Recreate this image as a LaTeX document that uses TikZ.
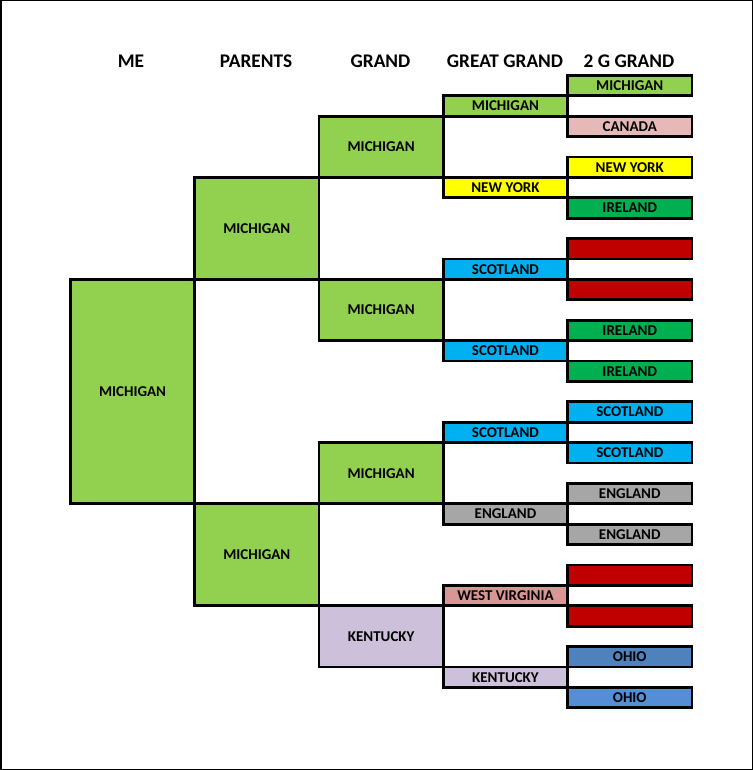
\documentclass[tikz,border=0pt]{standalone}
\usepackage{fontspec}
\setmainfont{Carlito}
\definecolor{mgreen}{HTML}{92D050}
\definecolor{mpink}{HTML}{E6B9B8}
\definecolor{myellow}{HTML}{FFFF00}
\definecolor{dgreen}{HTML}{00B050}
\definecolor{dred}{HTML}{C00000}
\definecolor{sky}{HTML}{00B0F0}
\definecolor{mgray}{HTML}{A6A6A6}
\definecolor{rose}{HTML}{D99694}
\definecolor{lav}{HTML}{CCC0DA}
\definecolor{ohioa}{HTML}{4F81BD}
\definecolor{ohiob}{HTML}{558ED5}
\begin{document}
\begin{tikzpicture}[x=1pt,y=-1pt,
  box/.style={draw=black,line width=2.8pt,anchor=north west,minimum width=124.3pt,inner sep=0pt,font=\fontsize{15}{15}\selectfont\bfseries},
  head/.style={font=\fontsize{19.3}{19}\selectfont\bfseries}]
\useasboundingbox (0,0) rectangle (753,770);
\draw[line width=1.5pt] (0.75,0.75) rectangle (752.25,769.25);
% column heads
\node[head] (hme) at (131,61) {ME};
\node[head] (hpar) at (256,61) {PARENTS};
\node[head] (hgr) at (380.5,61) {GRAND};
\node[head] (hgg) at (505,61) {GREAT GRAND};
\node[head] (hggg) at (629,61) {2 G GRAND};
% me and parents
\node[box,fill=mgreen,minimum height=224.4pt] (me) at (69,278) {MICHIGAN};
\node[box,fill=mgreen,minimum height=102pt] (par1) at (193.3,176) {MICHIGAN};
\node[box,fill=mgreen,minimum height=102pt] (par2) at (193.3,502.4) {MICHIGAN};
% grandparents
\node[box,fill=mgreen,minimum height=61.2pt] (gr1) at (317.6,114.8) {MICHIGAN};
\node[box,fill=mgreen,minimum height=61.2pt] (gr2) at (317.6,278) {MICHIGAN};
\node[box,fill=mgreen,minimum height=61.2pt] (gr3) at (317.6,441.2) {MICHIGAN};
\node[box,fill=lav,minimum height=61.2pt] (gr4) at (317.6,604.4) {KENTUCKY};
% great grandparents
\foreach \c/\t [count=\i from 0] in {mgreen/MICHIGAN,myellow/NEW YORK,sky/SCOTLAND,sky/SCOTLAND,
  sky/SCOTLAND,mgray/ENGLAND,rose/WEST VIRGINIA,lav/KENTUCKY}
  \node[box,fill=\c,minimum height=20.4pt] (gg\i) at (441.9,{94.4+81.6*\i}) {\t};
% 2 g grandparents
\foreach \c/\t [count=\k from 0] in {mgreen/MICHIGAN,mpink/CANADA,myellow/NEW YORK,dgreen/IRELAND,
  dred/,dred/,dgreen/IRELAND,dgreen/IRELAND,sky/SCOTLAND,sky/SCOTLAND,mgray/ENGLAND,mgray/ENGLAND,
  dred/,dred/,ohioa/OHIO,ohiob/OHIO}
  \node[box,fill=\c,minimum height=20.4pt] (ggg\k) at (566.2,{74+40.8*\k}) {\t};
\end{tikzpicture}
\end{document}
